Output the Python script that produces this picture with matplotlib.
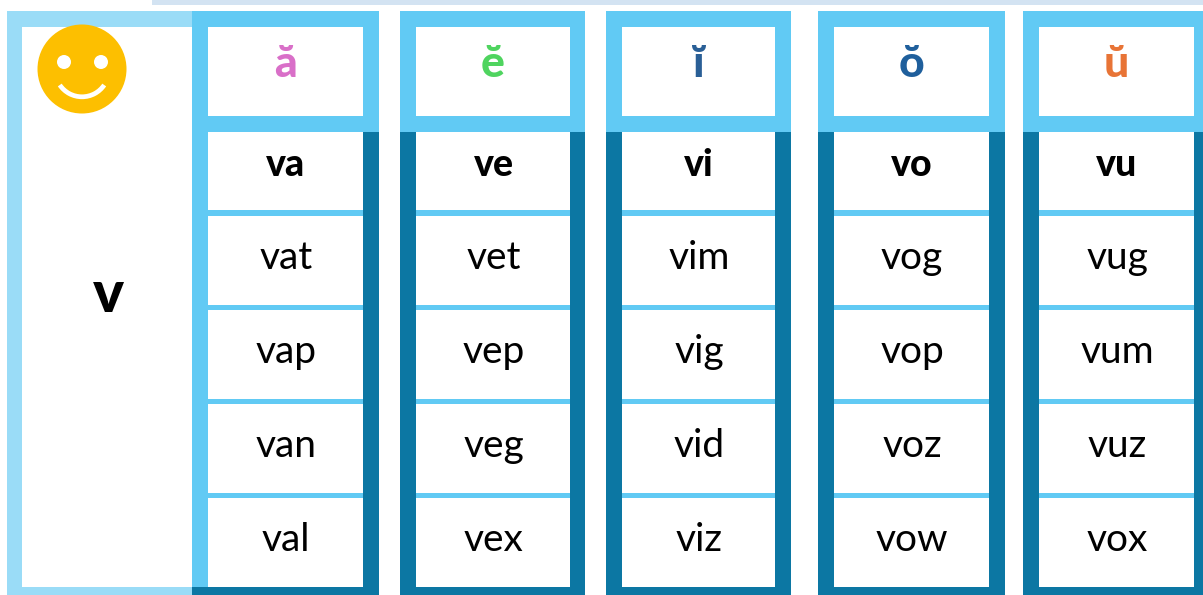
import matplotlib
matplotlib.use('Agg')
import matplotlib.pyplot as plt
from matplotlib.patches import Rectangle, Circle, Arc

consonant = 'v'
vowels = ['ă', 'ĕ', 'ĭ', 'ŏ', 'ŭ']
vowel_colors = ['#d96fc8', '#4fd45f', '#2a5f96', '#1f5f9c', '#e87436']
syllables = [
    ['va', 'vat', 'vap', 'van', 'val'],
    ['ve', 'vet', 'vep', 'veg', 'vex'],
    ['vi', 'vim', 'vig', 'vid', 'viz'],
    ['vo', 'vog', 'vop', 'voz', 'vow'],
    ['vu', 'vug', 'vum', 'vuz', 'vox'],
]

LIGHT = '#61caf4'
PALE = '#9adcf7'
DARK = '#0c77a3'
FONT = ['Lato', 'DejaVu Sans']

# outer left, outer right, inner left, inner right of each column
columns = [(192, 379, 208, 363), (400, 585, 416, 570), (606, 791, 622, 775),
           (818, 1005, 834, 989), (1023, 1210, 1039, 1194)]
# top and bottom of the five white cells
rows = [(132, 210), (216, 305), (310, 399), (404, 493), (498, 587)]

fig = plt.figure(figsize=(12.03, 5.95), dpi=100)
ax = fig.add_axes([0, 0, 1, 1])
ax.set_xlim(0, 1203)
ax.set_ylim(595, 0)
ax.axis('off')


def box(x0, y0, x1, y1, color, z=1):
    ax.add_patch(Rectangle((x0, y0), x1 - x0, y1 - y0, fc=color, ec='none', zorder=z))


box(152, 0, 1203, 5, '#d3e3f2')

# left panel
box(7, 11, 192, 595, PALE)
box(22, 27, 192, 587, 'white', 2)
ax.text(108, 295, consonant, fontsize=42, fontweight='black', family=FONT,
        ha='center', va='center', color='black', zorder=5)

# smiley
ax.add_patch(Circle((82, 69), 44.5, fc='#fdbf00', ec='none', zorder=3))
ax.add_patch(Circle((64, 62), 7, fc='white', ec='none', zorder=4))
ax.add_patch(Circle((101, 62), 7, fc='white', ec='none', zorder=4))
ax.add_patch(Arc((82, 70), 53.6, 53.6, theta1=34, theta2=146, ec='white', lw=3.4, zorder=4))

for i, (x0, x1, in0, in1) in enumerate(columns):
    box(x0, 132, x1, 595, DARK)
    box(x0, 11, x1, 132, LIGHT, 2)
    if i == 0:
        box(x0, 132, in0, 587, LIGHT, 2)
    box(in0, 27, in1, 116, 'white', 3)
    ax.text((in0 + in1) / 2, 64, vowels[i], fontsize=32, fontweight='black', family=FONT,
            ha='center', va='center', color=vowel_colors[i], zorder=5)
    box(in0, 132, in1, 587, LIGHT, 2)
    for j, (y0, y1) in enumerate(rows):
        box(in0, y0, in1, y1, 'white', 3)
        ax.text((in0 + in1) / 2 + 0.5, (y0 + y1) / 2 - 6 + (-3 if j == 0 else 0), syllables[i][j],
                fontsize=27 if j == 0 else 28, fontweight='black' if j == 0 else 'normal', family=FONT,
                ha='center', va='center_baseline', color='black', zorder=5)

fig.savefig('out.png', dpi=100)
